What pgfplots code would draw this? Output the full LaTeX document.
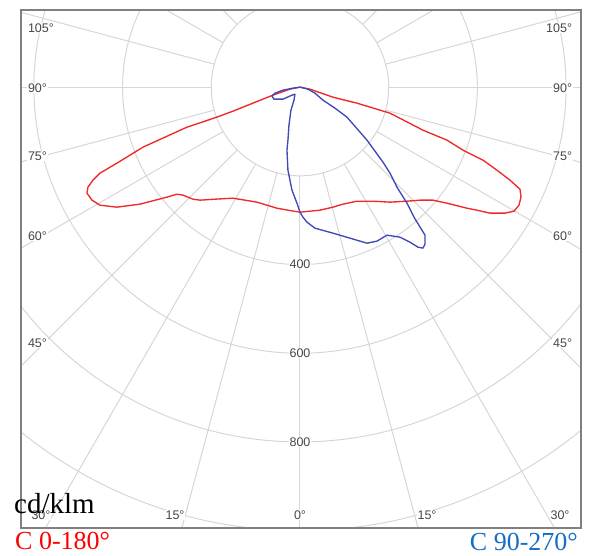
\documentclass[border=0pt]{standalone}
\usepackage{fontspec}
\setmainfont{Liberation Serif}
\newfontfamily\labfont{Liberation Sans}
\usepackage{pgfplots}
\usepackage{pgfplotstable}
\pgfplotsset{compat=1.18}
\definecolor{gridc}{RGB}{214,214,214}
\definecolor{framec}{RGB}{128,128,128}
\definecolor{redc}{RGB}{240,40,40}
\definecolor{bluec}{RGB}{62,74,182}
\definecolor{legblue}{RGB}{20,110,195}
\definecolor{labc}{RGB}{70,70,70}

% C 0-180 (cd/klm, Cartesian position of the polar curve)
\pgfplotstableread{
x y
0 0
22.6 -4.5
74.4 -22.6
128.5 -36.1
203 -58.6
277.4 -97
331.5 -119.5
367.6 -142
412.7 -164.6
444.2 -187.2
473.6 -209.7
496.1 -230
498.4 -248
493.8 -266.1
482.6 -279.6
462.3 -284.1
428.5 -284.1
399.1 -277.4
376.6 -272.9
331.5 -261.6
299.9 -254.8
270.6 -254.8
241.3 -257.1
203 -259.3
164.6 -257.1
128.5 -257.1
97 -263.8
74.4 -270.6
45.1 -277.4
22.6 -279.6
0 -281.9
-27.1 -277.4
-51.9 -272.9
-97 -259.3
-151.1 -250.3
-191.7 -252.6
-225.5 -254.8
-241.3 -252.6
-263.8 -243.5
-277.4 -241.3
-299.9 -248
-360.8 -263.8
-412.7 -270.6
-451 -266.1
-469 -254.8
-480.3 -239
-478 -225.5
-466.8 -209.7
-451 -193.9
-412.7 -171.4
-354 -135.3
-254.8 -90.2
-187.2 -67.6
-151.1 -54.1
-60.9 -18
-22.6 -4.5
0 0
}\redtab

% C 90-270
\pgfplotstableread{
x y
0 0
-15.8 -2.3
-38.3 -6.8
-56.4 -13.5
-63.1 -20.3
-58.6 -27.1
-38.3 -27.1
-18 -18
-11.3 -15.8
-13.5 -29.3
-20.3 -51.9
-24.8 -85.7
-27.1 -119.5
-29.3 -142.1
-27.1 -187.2
-18 -232.3
-6.8 -261.6
0 -281.9
6.8 -293.2
15.8 -304.4
33.8 -318
74.4 -329.2
112.8 -340.5
151.1 -351.8
173.6 -347.3
196.2 -333.7
225.5 -338.3
248 -349.5
266.1 -360.8
277.4 -363
281.9 -354
281.9 -333.7
275.1 -322.5
257.1 -293.2
241.3 -261.6
218.7 -225.5
203 -193.9
187.2 -169.1
151.1 -119.5
106 -67.6
78.9 -47.4
51.9 -29.3
33.8 -13.5
18 -4.5
0 0
}\bluetab

\tikzset{lab/.style={font=\labfont\fontsize{12.5}{12.5}\selectfont, text=labc, fill=white, inner sep=0.8pt}}

\begin{document}
\begin{tikzpicture}
\useasboundingbox (0,0) rectangle (589pt,556pt);
\begin{axis}[
  at={(21pt,28pt)}, anchor=south west,
  x=0.4435pt, y=0.4435pt,
  xmin=-629, xmax=634, ymin=-994, ymax=174,
  xtick=\empty, ytick=\empty,
  axis line style={draw=framec, line width=1.6pt},
  axis on top,
  clip=true,
]
\begin{scope}
\clip (rel axis cs:0,0) rectangle (rel axis cs:1,1);
\pgfplotsinvokeforeach{0,15,30,45,60,75,90,105,120,135,150,165,180,195,210,225,240,255,270,285,300,315,330,345}{
  \draw[gridc, line width=1pt] (axis cs:0,0) ++(#1:88.7pt) -- ++(#1:600pt);
}
\draw[gridc, line width=1pt] (axis cs:0,0) circle[radius=88.7pt];
\draw[gridc, line width=1pt] (axis cs:0,0) circle[radius=177.4pt];
\draw[gridc, line width=1pt] (axis cs:0,0) circle[radius=266.1pt];
\draw[gridc, line width=1pt] (axis cs:0,0) circle[radius=354.8pt];
\draw[gridc, line width=1pt] (axis cs:0,0) circle[radius=443.5pt];
\end{scope}
\addplot[redc, line width=1.35pt, line join=round] table[x=x, y=y] {\redtab};
\addplot[bluec, line width=1.35pt, line join=round] table[x=x, y=y] {\bluetab};
\end{axis}

% angle labels
\node[lab, anchor=west] at (27pt,528pt) {105°};
\node[lab, anchor=west] at (27pt,468pt) {90°};
\node[lab, anchor=west] at (27pt,400pt) {75°};
\node[lab, anchor=west] at (27pt,320pt) {60°};
\node[lab, anchor=west] at (27pt,213pt) {45°};
\node[lab, anchor=east] at (573pt,528pt) {105°};
\node[lab, anchor=east] at (573pt,468pt) {90°};
\node[lab, anchor=east] at (573pt,400pt) {75°};
\node[lab, anchor=east] at (573pt,320pt) {60°};
\node[lab, anchor=east] at (573pt,213pt) {45°};
\node[lab] at (41pt,41pt) {30°};
\node[lab] at (175pt,41pt) {15°};
\node[lab] at (300pt,41pt) {0°};
\node[lab] at (427pt,41pt) {15°};
\node[lab] at (560pt,41pt) {30°};
% intensity labels
\node[lab] at (300pt,292pt) {400};
\node[lab] at (300pt,203pt) {600};
\node[lab] at (300pt,114pt) {800};

\node[anchor=base west, inner sep=0pt, font=\fontsize{29}{29}\selectfont] at (14pt,42pt) {cd/klm};
\node[anchor=base west, inner sep=0pt, text=red, font=\fontsize{26}{26}\selectfont] at (15pt,6pt) {C 0-180°};
\node[anchor=base east, inner sep=0pt, text=legblue, font=\fontsize{26}{26}\selectfont] at (578pt,5pt) {C 90-270°};
\end{tikzpicture}
\end{document}
